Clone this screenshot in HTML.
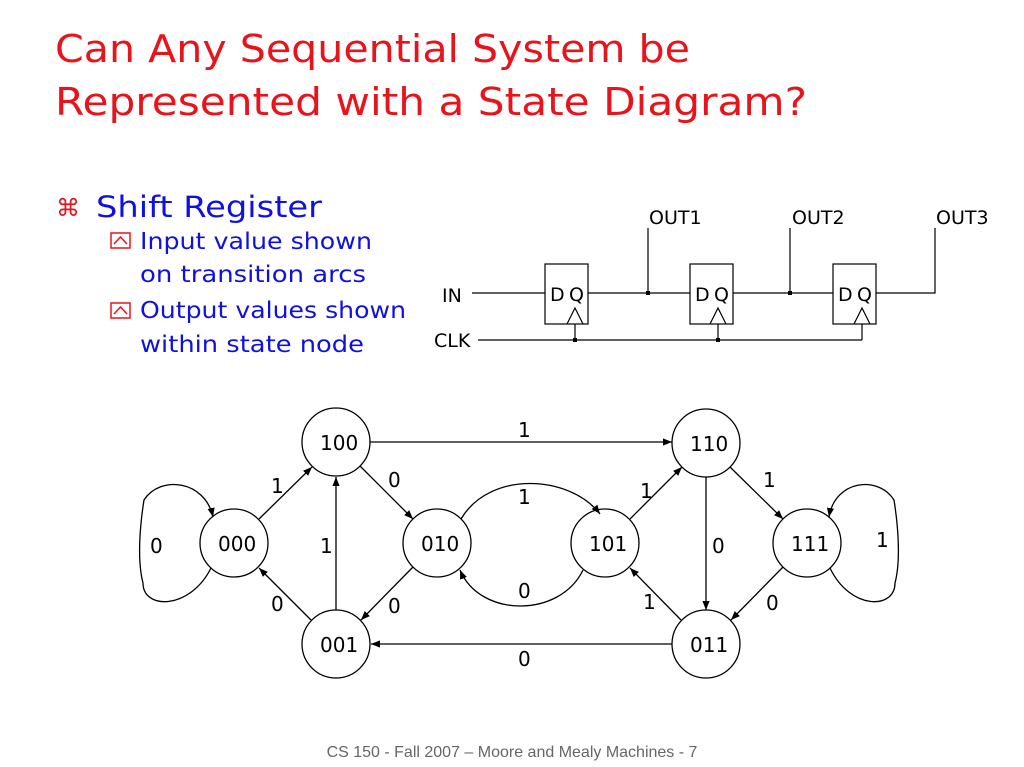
<!DOCTYPE html>
<html><head><meta charset="utf-8"><style>
html,body{margin:0;padding:0;background:#fff;}
svg{display:block;}
.t{font-family:"DejaVu Sans","Liberation Sans",sans-serif;}
.v{font-family:"DejaVu Sans","Liberation Sans",sans-serif;font-size:20px;fill:#000;}
</style></head><body>
<svg width="1024" height="767" viewBox="0 0 1024 767" xmlns="http://www.w3.org/2000/svg">
<defs><marker id="a" viewBox="0 0 10 10" refX="10" refY="5" markerWidth="9" markerHeight="9" orient="auto" markerUnits="userSpaceOnUse"><path d="M0,1 L10,5 L0,9 z" fill="#000"/></marker></defs>
<text class="t" x="55" y="62" font-size="38" fill="#e8141c" textLength="635" lengthAdjust="spacingAndGlyphs">Can Any Sequential System be</text>
<text class="t" x="55" y="115" font-size="38" fill="#e8141c" textLength="752" lengthAdjust="spacingAndGlyphs">Represented with a State Diagram?</text>
<text class="t" x="56" y="216" font-size="24" fill="#e8141c">⌘</text>
<text class="t" x="96" y="217" font-size="29" fill="#1010e0" textLength="226" lengthAdjust="spacingAndGlyphs">Shift Register</text>
<g fill="none" stroke="#e8141c" stroke-width="1.5"><rect x="111" y="233" width="19" height="15"/><path d="M114,244 L120.5,237 L127,244"/><rect x="111" y="303" width="19" height="15"/><path d="M114,314 L120.5,307 L127,314"/></g>
<g class="t" font-size="23" fill="#1010e0">
<text x="140" y="249" textLength="232" lengthAdjust="spacingAndGlyphs">Input value shown</text>
<text x="140" y="282" textLength="226" lengthAdjust="spacingAndGlyphs">on transition arcs</text>
<text x="140" y="318" textLength="266" lengthAdjust="spacingAndGlyphs">Output values shown</text>
<text x="140" y="352" textLength="224" lengthAdjust="spacingAndGlyphs">within state node</text>
</g>
<!-- circuit -->
<g stroke="#000" stroke-width="1.2" fill="none">
<rect x="545" y="264" width="43" height="60"/><rect x="690" y="264" width="43" height="60"/><rect x="833" y="264" width="43" height="60"/>
<path d="M472,293H545 M588,293H690 M733,293H833 M876,293H935V228 M648,293V228 M790,293V228"/>
<path d="M478,340H862 M575,324V340 M718,324V340 M862,324V340"/>
<path d="M567,324L575,308L583,324 M710,324L718,308L726,324 M854,324L862,308L870,324"/>
</g>
<g fill="#000"><rect x="646" y="291" width="4" height="4"/><rect x="788" y="291" width="4" height="4"/><rect x="573" y="338" width="4" height="4"/><rect x="716" y="338" width="4" height="4"/></g>
<g class="t" font-size="19" fill="#000">
<text x="442" y="302">IN</text><text x="434" y="347">CLK</text>
<text x="550" y="301">D</text><text x="569" y="301">Q</text>
<text x="695" y="301">D</text><text x="714" y="301">Q</text>
<text x="838" y="301">D</text><text x="857" y="301">Q</text>
<text x="649" y="224">OUT1</text><text x="792" y="224">OUT2</text><text x="936" y="224">OUT3</text>
</g>
<!-- state diagram -->
<g stroke="#000" stroke-width="1.3" fill="#fff">
<circle cx="336" cy="442" r="34"/><circle cx="234" cy="543" r="34"/><circle cx="437" cy="543" r="34"/><circle cx="336" cy="644" r="34"/>
<circle cx="605" cy="543" r="34"/><circle cx="706" cy="443" r="34"/><circle cx="807" cy="543" r="34"/><circle cx="706" cy="644" r="34"/>
</g>
<g stroke="#000" stroke-width="1.3" fill="none" marker-end="url(#a)">
<path d="M370,442H672"/>
<path d="M259,519L312,467"/>
<path d="M360,466L413,519"/>
<path d="M336,610V477"/>
<path d="M311,620L259,568"/>
<path d="M413,567L361,620"/>
<path d="M672,644H371"/>
<path d="M630,519L682,467"/>
<path d="M730,467L783,519"/>
<path d="M706,477V610"/>
<path d="M783,567L731,620"/>
<path d="M681,620L630,568"/>
<path d="M211,568C190,610 143,610 143,583C137,560 140,525 144,500C160,475 205,480 213,517"/>
<path d="M830,568C850,610 895,610 895,583C901,560 898,525 894,500C878,475 835,480 829,517"/>
<path d="M461,519C490,470 570,475 600,514"/>
<path d="M583,570C560,618 480,618 460,570"/>
</g>
<g class="v">
<text x="320" y="450">100</text><text x="218" y="551">000</text><text x="421" y="551">010</text><text x="320" y="652">001</text>
<text x="589" y="551">101</text><text x="690" y="451">110</text><text x="791" y="551">111</text><text x="690" y="652">011</text>
<text x="518" y="437">1</text><text x="271" y="493">1</text><text x="388" y="487">0</text><text x="150" y="553">0</text>
<text x="320" y="553">1</text><text x="271" y="611">0</text><text x="388" y="613">0</text><text x="518" y="504">1</text>
<text x="518" y="598">0</text><text x="518" y="666">0</text><text x="640" y="498">1</text><text x="763" y="487">1</text>
<text x="712" y="553">0</text><text x="876" y="547">1</text><text x="643" y="609">1</text><text x="766" y="610">0</text>
</g>
<text x="512" y="757" text-anchor="middle" font-family="Liberation Sans" font-size="16" fill="#666">CS 150 - Fall 2007 – Moore and Mealy Machines - 7</text>
</svg>
</body></html>
